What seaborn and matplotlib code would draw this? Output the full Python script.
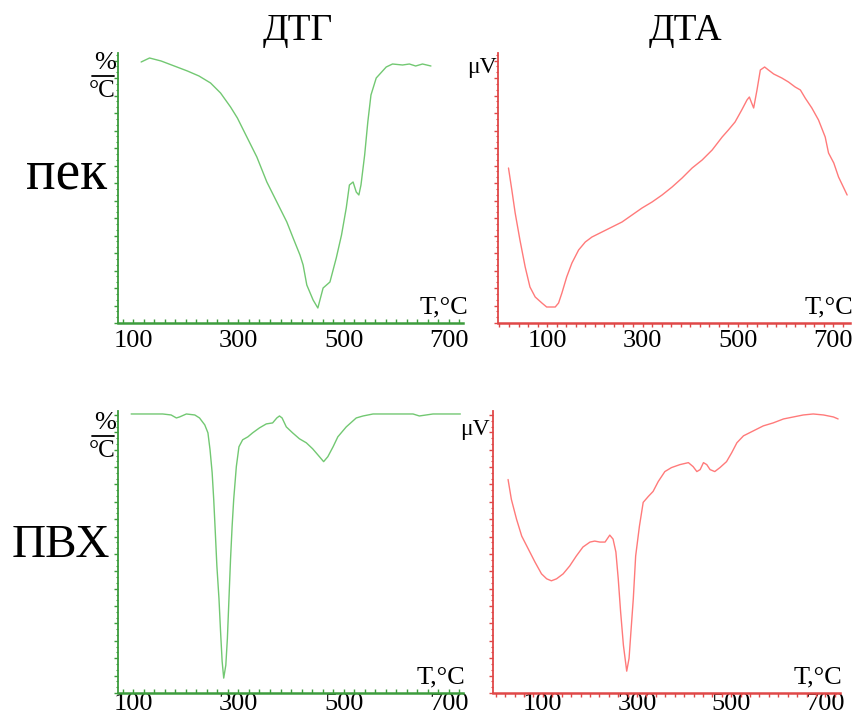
import matplotlib
matplotlib.use("Agg")
import matplotlib.pyplot as plt
from matplotlib.lines import Line2D
from matplotlib.ticker import MultipleLocator, FixedLocator, NullFormatter
import seaborn as sns

# ---- data (temperature, signal in arbitrary units) ----
dtg_pek_T = [115, 131, 153, 178, 203, 225, 247, 266, 285, 298, 316, 335, 354, 373, 392, 404, 417, 423, 430, 442,
             451, 461, 474, 486, 496, 505, 511, 518, 524, 529, 533, 540, 546, 552, 562, 581, 593, 612, 625, 637, 650, 666]
dtg_pek_v = [261, 265, 262, 257, 252, 247, 240, 230, 216, 205, 186, 166, 141, 121, 101, 85, 68, 58, 38, 23,
             15, 35, 41, 65, 88, 115, 138, 141, 131, 128, 138, 168, 201, 228, 245, 256, 259, 258, 259, 257, 259, 257]

dta_pek_T = [19, 26, 33, 43, 54, 64, 75, 89, 99, 117, 124, 131, 141, 152, 166, 180, 194, 215, 236, 257, 278, 299,
             320, 341, 362, 383, 404, 425, 446, 467, 480, 494, 508, 519, 524, 528, 533, 540, 547, 556, 564, 575,
             592, 606, 620, 631, 641, 655, 669, 683, 690, 701, 711, 722, 729]
dta_pek_v = [155, 133, 110, 83, 56, 36, 26, 20, 16, 16, 20, 30, 46, 60, 73, 81, 86, 91, 96, 101, 108, 115,
             121, 128, 136, 145, 155, 163, 173, 186, 193, 201, 213, 223, 226, 221, 215, 233, 253, 256, 253, 249,
             245, 241, 236, 233, 225, 215, 203, 186, 170, 160, 146, 135, 128]

dtg_pvc_T = [96, 125, 156, 172, 182, 188, 201, 217, 226, 236, 242, 246, 250, 253, 256, 259, 263, 266, 269, 272,
             276, 279, 282, 285, 288, 291, 296, 301, 308, 318, 327, 340, 353, 365, 373, 378, 383, 391, 403, 416,
             429, 441, 454, 462, 470, 480, 489, 505, 524, 537, 556, 600, 632, 644, 657, 670, 722]
dtg_pvc_v = [281, 281, 281, 280, 277, 278, 281, 280, 277, 270, 262, 245, 222, 195, 162, 128, 95, 62, 32, 15,
             28, 55, 95, 135, 168, 195, 228, 248, 255, 258, 262, 267, 271, 272, 277, 279, 277, 268, 262, 256,
             252, 246, 238, 233, 238, 248, 258, 268, 277, 279, 281, 281, 281, 279, 280, 281, 281]

dta_pvc_T = [26, 33, 44, 55, 69, 83, 97, 108, 118, 129, 143, 157, 171, 185, 200, 210, 221, 232, 242, 249,
             255, 260, 265, 271, 278, 283, 287, 292, 297, 305, 313, 324, 334, 345, 359, 373, 391, 409, 419, 427,
             434, 441, 448, 455, 465, 476, 490, 501, 512, 526, 547, 568, 589, 611, 632, 653, 674, 696, 717, 727]
dta_pvc_v = [215, 195, 175, 158, 145, 132, 120, 115, 113, 115, 120, 128, 138, 147, 152, 153, 152, 152, 159, 155,
             142, 115, 82, 48, 22, 35, 62, 95, 138, 168, 192, 198, 203, 213, 223, 227, 230, 232, 228, 223,
             225, 232, 230, 225, 223, 227, 233, 242, 252, 259, 264, 269, 272, 276, 278, 280, 281, 280, 278, 276]

x_tick_labels = [100, 300, 500, 700]
col_titles = ["ДТГ", "ДТА"]
row_titles = ["пек", "ПВХ"]

# ---- style ----
sns.set_style("white")
plt.rcParams["font.family"] = ["Liberation Serif", "DejaVu Serif"]
plt.rcParams["text.color"] = "black"
plt.rcParams["xtick.color"] = "black"
plt.rcParams["ytick.color"] = "black"

W, H = 854, 725
fig = plt.figure(figsize=(W / 100, H / 100), dpi=100)


def fx(px):
    return px / W


def fy(py):
    return 1 - py / H


green_line, green_axis = "#72c872", "#3c9c3c"
red_line, red_axis = "#ff7a7a", "#e04848"

panels = [
    # (left, right, top, bottom px), xlim, ylim, T, v, line color, axis color, tick dir, label pad
    ((118, 463, 53, 323), (71, 727), (0, 270), dtg_pek_T, dtg_pek_v, green_line, green_axis, "in", 5),
    ((498, 850, 53, 323), (-3, 735), (0, 270), dta_pek_T, dta_pek_v, red_line, red_axis, "out", 2),
    ((118, 463, 411, 693), (71, 727), (0, 284), dtg_pvc_T, dtg_pvc_v, green_line, green_axis, "in", 0),
    ((493, 840, 411, 693), (-6, 731), (0, 284), dta_pvc_T, dta_pvc_v, red_line, red_axis, "out", -3),
]

for (l, r, t, b), xlim, ylim, T, v, lc, ac, xdir, pad in panels:
    ax = fig.add_axes([fx(l), fy(b), (r - l) / W, (b - t) / H])
    sns.lineplot(x=T, y=v, ax=ax, color=lc, linewidth=1.0, sort=False, estimator=None)
    ax.set_xlim(*xlim)
    ax.set_ylim(*ylim)
    for s in ["top", "right"]:
        ax.spines[s].set_visible(False)
    ax.spines["left"].set_color(ac)
    ax.spines["bottom"].set_color(ac)
    ax.spines["left"].set_linewidth(1.3)
    ax.spines["bottom"].set_linewidth(1.8)
    ax.xaxis.set_major_locator(FixedLocator(x_tick_labels))
    ax.xaxis.set_minor_locator(MultipleLocator(20))
    ax.yaxis.set_major_locator(MultipleLocator(17.5))
    ax.yaxis.set_minor_locator(MultipleLocator(17.5 / 3))
    ax.yaxis.set_major_formatter(NullFormatter())
    ax.tick_params(axis="x", which="both", direction=xdir, length=3, width=1, color=ac,
                   labelsize=19, pad=pad, bottom=True, labelcolor="black")
    ax.tick_params(axis="y", which="major", direction="out", length=3, width=1, color=ac, left=True)
    ax.tick_params(axis="y", which="minor", direction="out", length=1.5, width=0.8, color=ac, left=True)
    ax.set_xlabel("")
    ax.set_ylabel("")
    ax.patch.set_alpha(0)

# column and row titles
fig.text(fx(298), fy(31), col_titles[0], fontsize=27, ha="center", va="center")
fig.text(fx(685), fy(31), col_titles[1], fontsize=27, ha="center", va="center")
fig.text(fx(67), fy(176), row_titles[0], fontsize=40, ha="center", va="center")
fig.text(fx(61), fy(546), row_titles[1], fontsize=34, ha="center", va="center")

# unit labels for the DTG axes (%/°C fraction)
for dy in (0, 360):
    fig.text(fx(105), fy(63 + dy), "%", fontsize=19, ha="center", va="center")
    fig.add_artist(Line2D([fx(92), fx(114)], [fy(76 + dy), fy(76 + dy)], color="black", lw=1.3))
    fig.text(fx(102), fy(91 + dy), "°C", fontsize=18, ha="center", va="center")

# μV labels for DTA axes
fig.text(fx(497), fy(67), "μV", fontsize=17, ha="right", va="center")
fig.text(fx(490), fy(430), "μV", fontsize=17, ha="right", va="center")

# T,°C labels
for (xr, yb) in [(468, 318), (853, 318), (465, 688), (842, 688)]:
    fig.text(fx(xr), fy(yb), "T,°C", fontsize=19, ha="right", va="bottom")

fig.savefig("out.png", dpi=100)
